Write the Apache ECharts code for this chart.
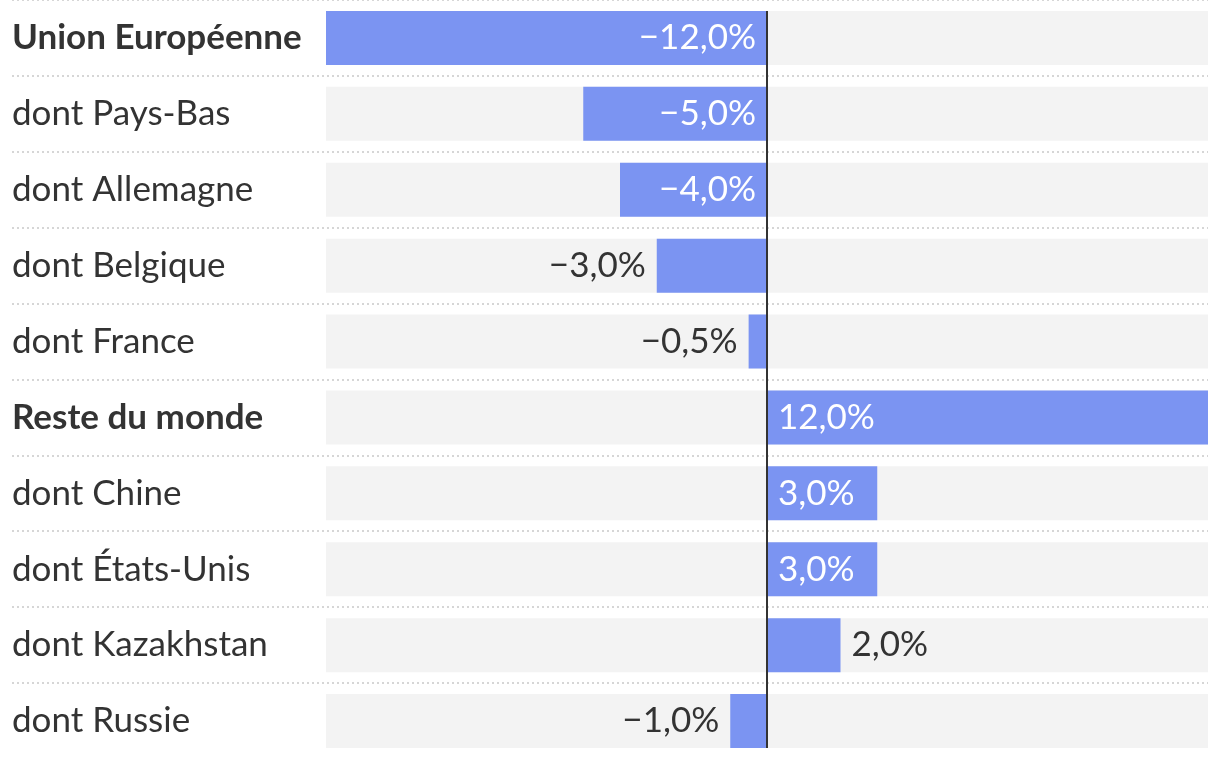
<!DOCTYPE html>
<html>
<head>
<meta charset="utf-8">
<style>
  html, body { margin: 0; padding: 0; background: #fff; }
  #chart { width: 1220px; height: 760px; }
</style>
<script src="https://cdn.jsdelivr.net/npm/echarts@6/dist/echarts.min.js"></script>
</head>
<body>
<div id="chart"></div>
<script>
const categories = ['Union Européenne', 'dont Pays-Bas', 'dont Allemagne', 'dont Belgique', 'dont France',
  'Reste du monde', 'dont Chine', 'dont États-Unis', 'dont Kazakhstan', 'dont Russie'];
const values = [-12.0, -5.0, -4.0, -3.0, -0.5, 12.0, 3.0, 3.0, 2.0, -1.0];
const boldCategories = ['Union Européenne', 'Reste du monde'];
const axisMin = -12;
const axisMax = 12;

const FONT = 'Lato';
const FS = 35;
const BAR = '#7b94f2';
const TXT = '#333333';
const ROW = 76;

function fmt(v) {
  return (v < 0 ? '\u2212' : '') + Math.abs(v).toFixed(1).replace('.', ',') + '%';
}
const mctx = document.createElement('canvas').getContext('2d');
mctx.font = FS + 'px ' + FONT;

const chart = echarts.init(document.getElementById('chart'), null, { renderer: 'canvas' });
const plotW = 1220 - 326 - 12;
const pxPerUnit = plotW / (axisMax - axisMin);

const seriesData = values.map(function (v) {
  const tw = mctx.measureText(fmt(v)).width;
  const inside = Math.abs(v) * pxPerUnit >= tw + 24;
  let position;
  if (v < 0) position = inside ? 'insideRight' : 'left';
  else position = inside ? 'insideLeft' : 'right';
  return {
    value: v,
    label: {
      position: position,
      color: inside ? '#ffffff' : TXT,
      distance: 11
    }
  };
});

// separator rows: all rows except the last, so no line is drawn under the final row
const sepCategories = categories.slice(0, categories.length - 1);

const option = {
  animation: false,
  backgroundColor: '#ffffff',
  grid: [
    { left: 326, right: 12, top: -1, height: ROW * categories.length },
    { left: 12, right: 12, top: -1, height: ROW * sepCategories.length }
  ],
  xAxis: [
    { gridIndex: 0, type: 'value', min: axisMin, max: axisMax, show: false, splitLine: { show: false } },
    { gridIndex: 1, type: 'value', min: 0, max: 1, show: false }
  ],
  yAxis: [
    {
      gridIndex: 0, type: 'category', data: categories, inverse: true,
      axisLine: { show: false }, axisTick: { show: false }, splitLine: { show: false },
      axisLabel: {
        show: true, align: 'left', margin: 314,
        fontFamily: FONT, fontSize: FS, color: TXT,
        formatter: function (v) { return boldCategories.indexOf(v) >= 0 ? '{b|' + v + '}' : v; },
        rich: { b: { fontFamily: FONT, fontSize: FS, fontWeight: 'bold', color: TXT } }
      }
    },
    {
      gridIndex: 1, type: 'category', data: sepCategories, inverse: true,
      axisLine: { show: false }, axisTick: { show: false }, axisLabel: { show: false },
      splitLine: {
        show: true,
        interval: 0,
        lineStyle: { color: '#d6d6d6', width: 2, type: [2, 3] }
      }
    }
  ],
  series: [
    {
      type: 'bar',
      xAxisIndex: 0, yAxisIndex: 0,
      data: seriesData,
      barWidth: 54,
      itemStyle: { color: BAR },
      showBackground: true,
      backgroundStyle: { color: '#f3f3f3' },
      label: {
        show: true,
        fontFamily: FONT, fontSize: FS,
        formatter: function (p) { return fmt(p.value); }
      },
      z: 3
    },
    {
      type: 'bar', xAxisIndex: 1, yAxisIndex: 1, data: [], silent: true
    }
  ]
};
chart.setOption(option);

const pTop = chart.convertToPixel({ xAxisIndex: 0, yAxisIndex: 0 }, [0, categories[0]]);
const pBot = chart.convertToPixel({ xAxisIndex: 0, yAxisIndex: 0 }, [0, categories[categories.length - 1]]);
chart.setOption({
  graphic: [{
    type: 'line', z: 100,
    shape: { x1: pTop[0], y1: pTop[1] - 27, x2: pBot[0], y2: pBot[1] + 27 },
    style: { stroke: '#333333', lineWidth: 2 }
  }]
});
</script>
</body>
</html>
